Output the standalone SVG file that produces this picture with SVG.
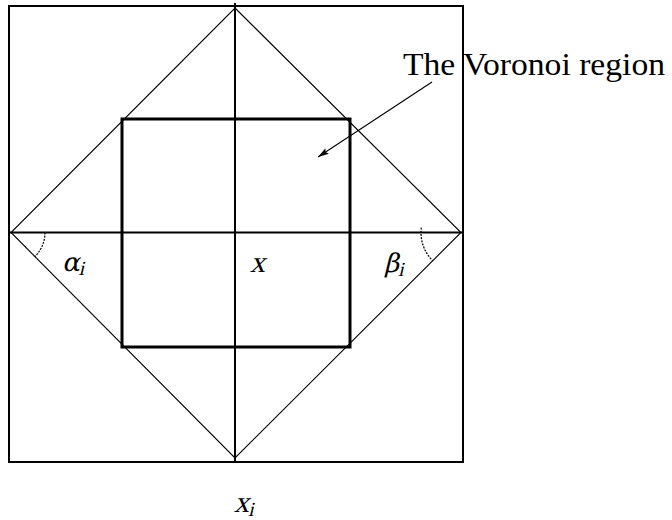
<svg xmlns="http://www.w3.org/2000/svg" width="672" height="520" viewBox="0 0 672 520">
<style>
.thin{fill:none;stroke:#000;stroke-width:1.1}
.med{fill:none;stroke:#000;stroke-width:2}
.thick{fill:none;stroke:#000;stroke-width:3}
.dash{fill:none;stroke:#000;stroke-width:1.2;stroke-dasharray:2 1.2}
.lbl{font-family:"Liberation Serif","Times New Roman",serif;fill:#000}
.math{font-family:"Liberation Serif","Times New Roman",serif;font-style:normal;fill:#000;font-size:30px}
.greek{font-family:"DejaVu Serif","Liberation Serif",serif;font-size:26px}
.sub{font-family:"Liberation Serif","Times New Roman",serif;font-size:20px}
</style>
<defs>
<marker id="ah" markerWidth="12" markerHeight="8" refX="11" refY="4" orient="auto" markerUnits="userSpaceOnUse">
<path d="M0,0.8 L11,4 L0,7.2 L2,4 Z" fill="#000"/>
</marker>
</defs>
<rect width="672" height="520" fill="#fff"/>
<g id="outer-square"><rect class="med" x="9" y="6" width="454" height="456"/></g>
<g id="axes">
<line class="med" x1="235" y1="3" x2="235" y2="462"/>
<line class="med" x1="9" y1="232.5" x2="463" y2="232.5"/>
</g>
<g id="diamond"><polygon class="thin" points="235,8 461,232.5 235,458 11,232.5"/></g>
<g id="voronoi-square"><rect class="thick" x="122" y="119" width="228" height="228"/></g>
<g id="angle-alpha"><path class="dash" d="M45,232.5 A34,34 0 0 1 35,256.5"/></g>
<g id="angle-beta"><path class="dash" d="M421.3,227.6 A40,40 0 0 0 432.7,260.8"/></g>
<g id="connectors"><line class="thin" x1="432" y1="82" x2="318" y2="157" marker-end="url(#ah)"/></g>
<g id="label-voronoi"><text class="lbl" x="403" y="75" font-size="32" textLength="262" lengthAdjust="spacingAndGlyphs">The Voronoi region</text></g>
<g id="label-alpha" transform="translate(62,271) skewX(-14)"><text class="math" x="0" y="0"><tspan class="greek">α</tspan><tspan class="sub" dy="4">i</tspan></text></g>
<g id="label-x" transform="translate(250,272) skewX(-14)"><text class="math" x="0" y="0">x</text></g>
<g id="label-beta" transform="translate(384,272) skewX(-14)"><text class="math" x="0" y="0"><tspan class="greek">β</tspan><tspan class="sub" dy="4">i</tspan></text></g>
<g id="label-xi" transform="translate(234,512) skewX(-14)"><text class="math" x="0" y="0">x<tspan class="sub" dy="4">i</tspan></text></g>
</svg>
